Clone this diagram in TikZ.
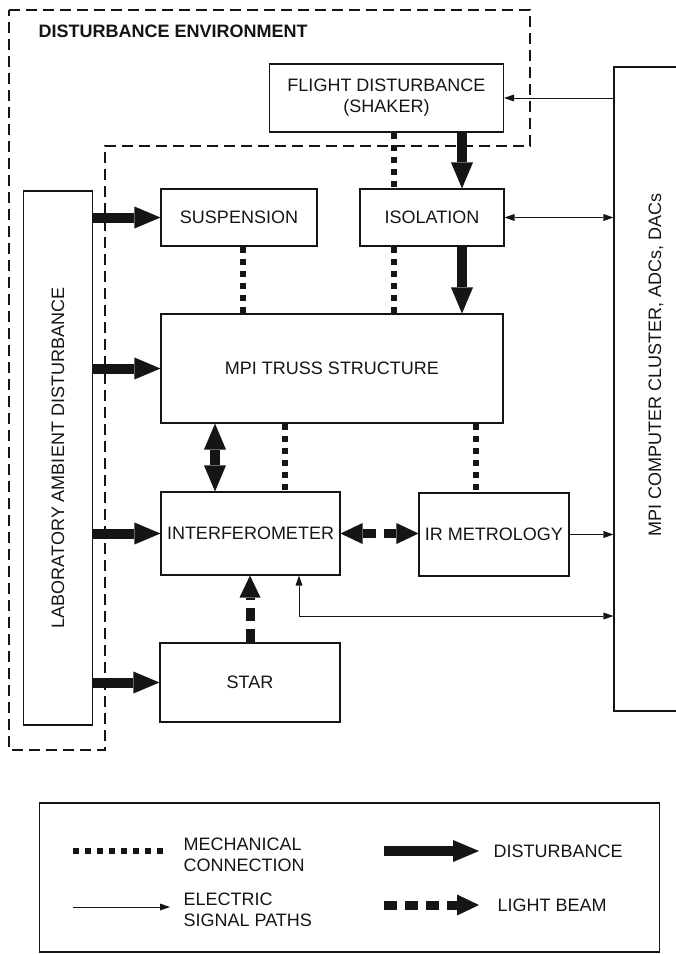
\documentclass[tikz,border=0pt]{standalone}
\usepackage{fontspec}
\setmainfont{Liberation Sans}
\usetikzlibrary{arrows.meta, positioning, calc}
\definecolor{cink}{HTML}{151515}
\tikzset{
  every picture/.style={line width=1.1pt},
  dtip/.tip={Triangle[length=26pt, width=22pt, line width=0pt]},
  btip/.tip={Triangle[length=22pt, width=21pt, line width=0pt]},
  stip/.tip={Triangle[length=10pt, width=7pt, line width=0pt]},
  box/.style={draw=cink, line width=1.1pt, inner sep=2pt, align=center, text=cink, font=\fontsize{18}{21}\selectfont},
  sidetext/.style={rotate=90, text=cink, font=\fontsize{18}{21}\selectfont},
  keytext/.style={text=cink, align=left, inner sep=0pt, font=\fontsize{18}{21}\selectfont},
  title/.style={text=cink, inner sep=0pt, font=\fontsize{18}{21}\selectfont\bfseries},
  env/.style={draw=cink, line width=1.1pt, dash pattern=on 11pt off 6pt},
  mech/.style={draw=cink, line width=6pt, dash pattern=on 6pt off 6pt},
  dist/.style={draw=cink, line width=10pt, -dtip},
  beam/.style={draw=cink, line width=9pt, dash pattern=on 13pt off 8pt, -btip},
  signal/.style={draw=cink, line width=1pt, -stip},
}
\begin{document}
\begin{tikzpicture}[x=1pt, y=-1pt]
  \useasboundingbox (0,0) rectangle (676,954);
  % disturbance environment
  \draw[env] (9,10) -- (530,10) -- (530,146) -- (105,146) -- (105,750) -- (9,750) -- cycle;
  \node[title, anchor=west] (envtitle) at (38,31) {DISTURBANCE ENVIRONMENT};
  % blocks
  \node[box, minimum width=234pt, minimum height=68pt] (flight) at (386.5,98) {FLIGHT DISTURBANCE\\(SHAKER)};
  \node[box, minimum width=156pt, minimum height=57pt] (susp) at (239,217.5) {SUSPENSION};
  \node[box, minimum width=144pt, minimum height=57pt] (iso) at (432,217.5) {ISOLATION};
  \node[box, minimum width=342pt, minimum height=109pt] (truss) at (332,368.5) {MPI TRUSS STRUCTURE};
  \node[box, minimum width=179pt, minimum height=83pt] (interf) at (250.5,533.5) {INTERFEROMETER};
  \node[box, minimum width=150pt, minimum height=83pt] (irmet) at (494,534.5) {IR METROLOGY};
  \node[box, minimum width=180pt, minimum height=79pt] (star) at (250,682.5) {STAR};
  \node[box, minimum width=69pt, minimum height=534pt,
        label={[sidetext]center:LABORATORY AMBIENT DISTURBANCE}] (lab) at (58,458) {};
  \node[box, minimum width=84pt, minimum height=644pt,
        label={[sidetext, xshift=24pt]center:MPI COMPUTER CLUSTER, ADCs, DACs}] (mpi) at (656,389) {};
  % columns of the vertical links
  \coordinate (mA) at (394,0);
  \coordinate (mB) at (243,0);
  \coordinate (mC) at (285,0);
  \coordinate (mD) at (476,0);
  \coordinate (dA) at (462,0);
  \coordinate (dB) at (215,0);
  \coordinate (sA) at (299,616);
  % mechanical connections
  \draw[mech] (mA |- flight.south) -- (mA |- iso.north);
  \draw[mech] (mA |- iso.south) -- (mA |- truss.north);
  \draw[mech] (mB |- susp.south) -- (mB |- truss.north);
  \draw[mech] (mC |- truss.south) -- (mC |- interf.north);
  \draw[mech] (mD |- truss.south) -- (mD |- irmet.north);
  % disturbances
  \draw[dist] (dA |- flight.south) -- (dA |- iso.north);
  \draw[dist] (dA |- iso.south) -- (dA |- truss.north);
  \foreach \b in {susp, truss, interf, star}
    \draw[dist] (lab.east |- \b.west) -- (\b.west);
  \draw[dist, dtip-dtip] (dB |- truss.south) -- (dB |- interf.north);
  % light beams
  \draw[beam, btip-btip] (interf.east) -- (interf.east -| irmet.west);
  \draw[beam] (star.north) -- (star.north |- interf.south);
  % electric signals
  \draw[signal] (mpi.west |- flight.east) -- (flight.east);
  \draw[signal, stip-stip] (iso.east) -- (iso.east -| mpi.west);
  \draw[signal] (irmet.east) -- (irmet.east -| mpi.west);
  \draw[signal, stip-stip] (sA |- interf.south) |- (sA -| mpi.west);
  % legend
  \node[box, minimum width=620pt, minimum height=149pt] (legend) at (349.5,877.5) {};
  \node[keytext, anchor=west] (kmech) at (183,855) {MECHANICAL\\CONNECTION};
  \node[keytext, anchor=west] (ksig) at (183,909.5) {ELECTRIC\\SIGNAL PATHS};
  \node[keytext, anchor=west] (kdist) at (493,851) {DISTURBANCE};
  \node[keytext, anchor=west] (kbeam) at (497,905) {LIGHT BEAM};
  \coordinate (kmechA) at (73,851);
  \coordinate (kmechB) at (168,851);
  \coordinate (ksigA) at (73,907);
  \coordinate (ksigB) at (170,907);
  \coordinate (kdistA) at (384,851);
  \coordinate (kdistB) at (479,851);
  \coordinate (kbeamA) at (384,905);
  \coordinate (kbeamB) at (479,905);
  \draw[mech] (kmechA) -- (kmechB);
  \draw[signal] (ksigA) -- (ksigB);
  \draw[dist] (kdistA) -- (kdistB);
  \draw[beam] (kbeamA) -- (kbeamB);
\end{tikzpicture}
\end{document}
